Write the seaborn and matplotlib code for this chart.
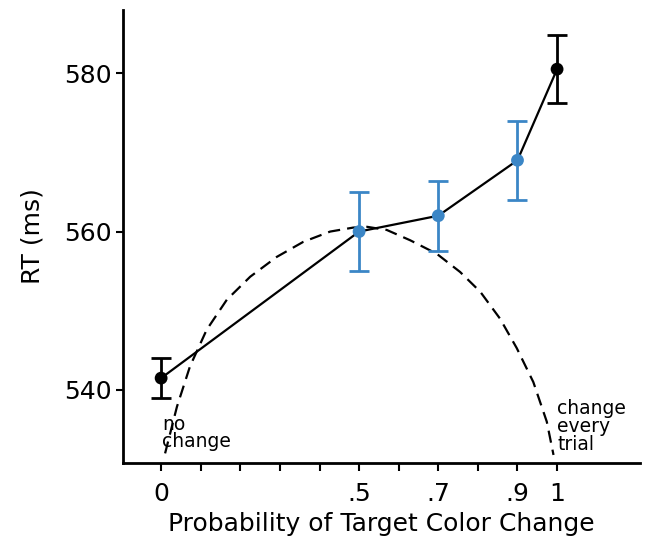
import pandas as pd
import matplotlib.pyplot as plt
import seaborn as sns


# DATA
prob = [0, 0.5, 0.7, 0.9, 1]
rt_mean = [541.5, 560.0, 562.0, 569.0, 580.5]
rt_err = [2.5, 5.0, 4.4, 5.0, 4.3]
group = ['end', 'mid', 'mid', 'mid', 'end']

# dashed reference curve
curve_x = [0.010, 0.040, 0.073, 0.115, 0.166, 0.225, 0.292, 0.359, 0.427,
           0.485, 0.520, 0.570, 0.629, 0.696, 0.755, 0.806, 0.856, 0.898,
           0.940, 0.974, 0.991]
curve_y = [532.0, 537.9, 543.0, 547.6, 551.4, 554.3, 556.8, 558.7, 560.0,
           560.5, 560.6, 560.2, 558.9, 557.2, 554.9, 552.4, 549.0, 545.3,
           541.0, 536.0, 531.8]

xtick_pos = [0, 0.1, 0.2, 0.3, 0.4, 0.5, 0.6, 0.7, 0.8, 0.9, 1.0]
xtick_lab = ['0', '', '', '', '', '.5', '', '.7', '', '.9', '1']
ytick_pos = [540, 560, 580]

df = pd.DataFrame({'prob': prob, 'rt': rt_mean, 'err': rt_err, 'group': group})
curve_df = pd.DataFrame({'x': curve_x, 'y': curve_y})

palette = {'end': 'black', 'mid': '#3b86c6'}


# PLOT
sns.set_style("ticks")
plt.rcParams['font.family'] = ['DejaVu Sans']
plt.rcParams['text.color'] = 'black'
plt.rcParams['axes.labelcolor'] = 'black'
plt.rcParams['xtick.color'] = 'black'
plt.rcParams['ytick.color'] = 'black'

fig = plt.figure(figsize=(6.48, 5.42), dpi=100)
ax = fig.add_axes([0.190, 0.146, 0.798, 0.836])

sns.lineplot(data=curve_df, x='x', y='y', ax=ax, color='black',
             linewidth=1.6, sort=False)
ax.lines[-1].set_dashes([5.5, 3.2])

for _, row in df.iterrows():
    ax.errorbar(row['prob'], row['rt'], yerr=row['err'], fmt='none',
                ecolor=palette[row['group']], elinewidth=2,
                capsize=7, capthick=2, zorder=3)

sns.lineplot(data=df, x='prob', y='rt', ax=ax, color='black',
             linewidth=1.6, zorder=4)

sns.scatterplot(data=df, x='prob', y='rt', hue='group', palette=palette,
                ax=ax, s=85, edgecolor='none', legend=False, zorder=5)

ax.text(0.003, 536.9, 'no\nchange', fontsize=13.5, ha='left', va='top',
        linespacing=0.92)
ax.text(1.0, 538.8, 'change\nevery\ntrial', fontsize=13.5, ha='left',
        va='top', linespacing=0.92)

ax.set_xlim(-0.096, 1.21)
ax.set_ylim(530.8, 588)
ax.set_xticks(xtick_pos)
ax.set_xticklabels(xtick_lab)
ax.set_yticks(ytick_pos)
ax.tick_params(axis='both', labelsize=18, width=1.5, length=5)
ax.tick_params(axis='x', length=6, pad=8)

ax.set_xlabel('Probability of Target Color Change', fontsize=18, labelpad=4)
ax.set_ylabel('RT (ms)', fontsize=18, labelpad=14)

sns.despine(ax=ax)
for s in ['left', 'bottom']:
    ax.spines[s].set_linewidth(2)
    ax.spines[s].set_color('black')

plt.savefig("out.png", dpi=100)
